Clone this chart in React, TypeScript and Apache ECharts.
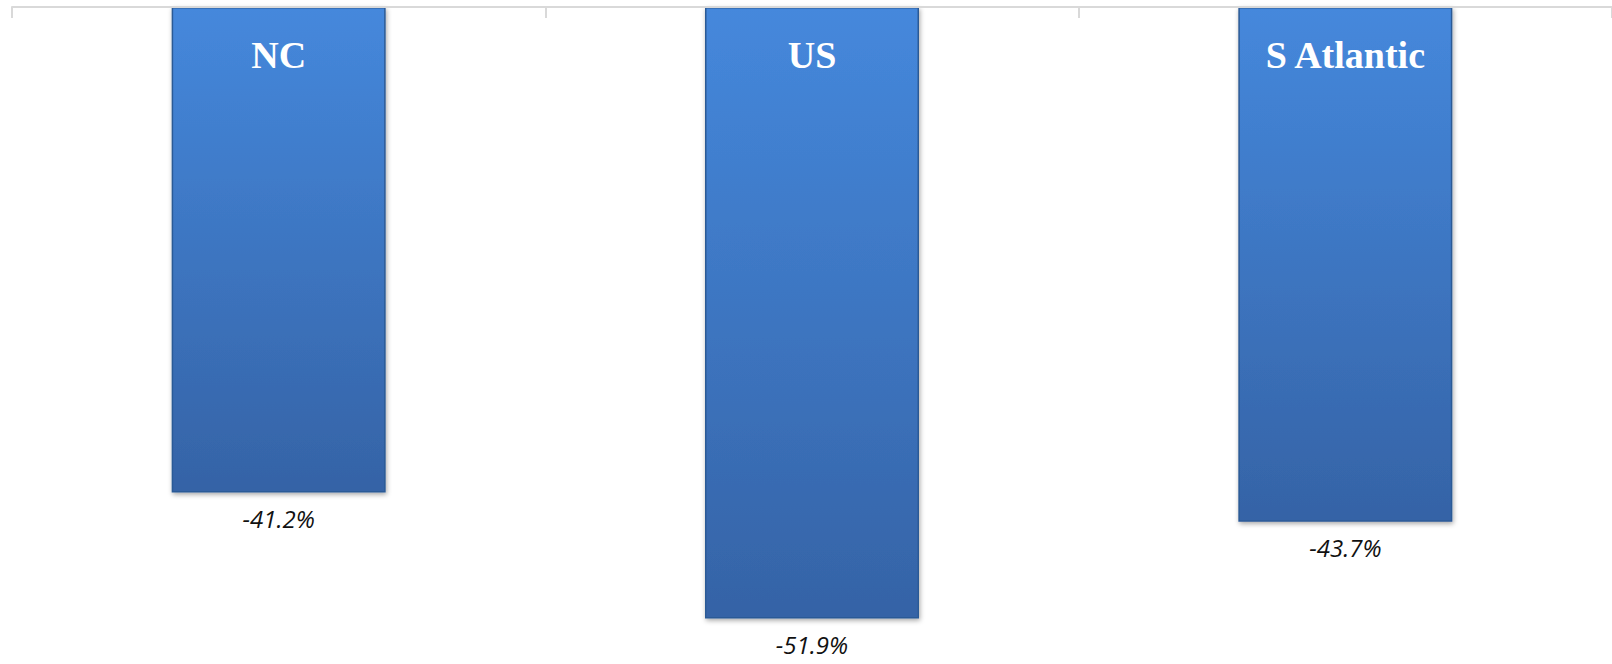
import React, { useEffect, useRef } from "react";
import * as echarts from "echarts";

const categories = ["NC", "US", "S Atlantic"];
const changeValues = [-41.2, -51.9, -43.7];

export default function App() {
  const ref = useRef<HTMLDivElement>(null);
  useEffect(() => {
    if (!ref.current) return;
    const chart = echarts.init(ref.current, null, { renderer: "svg" });
    chart.setOption({
      animation: false,
      grid: { left: 12, right: -5, top: 7, bottom: 9, containLabel: false },
      xAxis: {
        type: "category",
        position: "top",
        data: categories,
        axisLine: { show: true, lineStyle: { color: "#d9d9d9", width: 2 } },
        axisTick: { show: true, inside: true, length: 11, lineStyle: { color: "#d9d9d9", width: 2 } },
        axisLabel: {
          inside: true,
          margin: 29,
          color: "#ffffff",
          fontFamily: "Liberation Serif",
          fontWeight: "bold",
          fontSize: 38,
        },
        z: 10,
      },
      yAxis: {
        type: "value",
        min: -55,
        max: 0,
        show: false,
        splitLine: { show: false },
      },
      series: [
        {
          type: "bar",
          data: changeValues,
          barWidth: 214,
          itemStyle: {
            color: new echarts.graphic.LinearGradient(0, 0, 0, 1, [
              { offset: 0, color: "#4588dc" },
              { offset: 1, color: "#3563a6" },
            ]),
            borderColor: "#2c5a96",
            borderWidth: 1.5,
            shadowColor: "rgba(0,0,0,0.35)",
            shadowBlur: 5,
            shadowOffsetX: 1,
            shadowOffsetY: 2,
          },
          label: {
            show: true,
            position: "bottom",
            distance: 14,
            formatter: (p: any) => p.value.toFixed(1) + "%",
            color: "#111111",
            fontFamily: "Open Sans",
            fontStyle: "italic",
            fontSize: 24,
          },
        },
      ],
    });
    return () => chart.dispose();
  }, []);
  return (
    <div
      ref={ref}
      style={{ position: "absolute", left: 0, top: 0, width: 1612, height: 664, background: "#ffffff" }}
    />
  );
}
